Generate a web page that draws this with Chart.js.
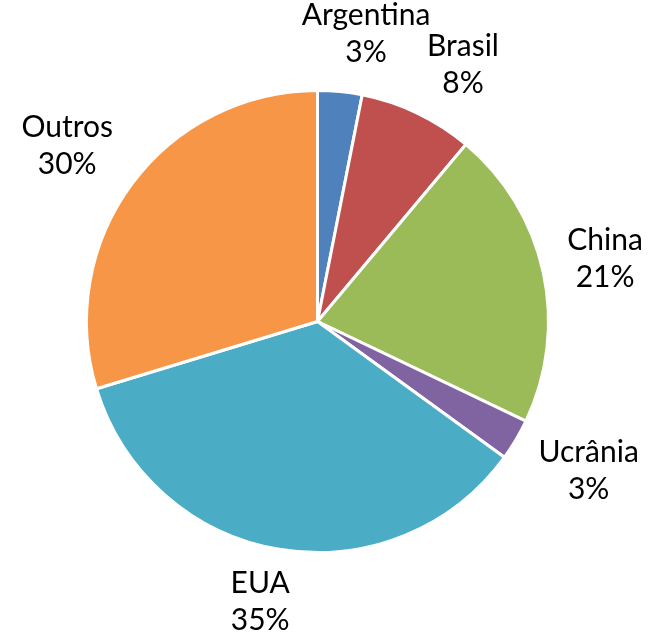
<!DOCTYPE html>
<html>
<head>
<meta charset="utf-8">
<script src="https://cdn.jsdelivr.net/npm/chart.js@4/dist/chart.umd.min.js"></script>
<style>
  html, body { margin: 0; padding: 0; background: #fff; }
  #wrap { width: 652px; height: 637px; position: relative; }
</style>
</head>
<body>
<div id="wrap"><canvas id="pie"></canvas></div>
<script>
{
    // values (share of total, in %)
    const countries = ['Argentina', 'Brasil', 'China', 'Ucrânia', 'EUA', 'Outros'];
    const shares = [3.1, 8.0, 21.0, 2.9, 35.3, 29.7];
    const sliceColors = ['#4F81BD', '#C0504D', '#9BBB59', '#8064A2', '#4BACC6', '#F79646'];
    // small angular nudge of each label off the slice bisector (degrees)
    const labelNudge = [4, 4, 0, -2, 2, -1.5];

    const LABEL_FONT = '30px Lato, "Open Sans", sans-serif';
    const LINE_H = 37;
    const GAP = 20;

    const pct = v => Math.round(v * 100 / shares.reduce((a, b) => a + b, 0)) + '%';

    // two-line labels outside each slice, along the slice bisector
    const outsideLabels = {
        id: 'outsideLabels',
        afterDatasetsDraw(chart) {
            const ctx = chart.ctx;
            const arcs = chart.getDatasetMeta(0).data;
            ctx.save();
            ctx.font = LABEL_FONT;
            ctx.fillStyle = '#000';
            ctx.textAlign = 'center';
            ctx.textBaseline = 'middle';
            arcs.forEach((arc, i) => {
                const { x, y, startAngle, endAngle, outerRadius } = arc.getProps(['x', 'y', 'startAngle', 'endAngle', 'outerRadius'], true);
                const mid = (startAngle + endAngle) / 2 + labelNudge[i] * Math.PI / 180;
                const ux = Math.cos(mid), uy = Math.sin(mid);
                const lines = [countries[i], pct(shares[i])];
                const w = Math.max(...lines.map(t => ctx.measureText(t).width));
                const h = 60;
                const d = outerRadius + GAP + Math.abs(ux) * w / 2 + Math.abs(uy) * h / 2;
                const cx = x + ux * d, cy = y + uy * d;
                ctx.fillText(lines[0], cx, cy - LINE_H / 2);
                ctx.fillText(lines[1], cx, cy + LINE_H / 2);
            });
            ctx.restore();
        }
    };

    new Chart(document.getElementById('pie'), {
        type: 'pie',
        data: {
            labels: countries,
            datasets: [{
                data: shares,
                backgroundColor: sliceColors,
                borderColor: '#ffffff',
                borderWidth: 3
            }]
        },
        options: {
            responsive: true,
            maintainAspectRatio: false,
            animation: false,
            layout: { padding: { left: 85, right: 102, top: 89, bottom: 83 } },
            plugins: {
                legend: { display: false },
                tooltip: { enabled: false }
            }
        },
        plugins: [outsideLabels]
    });
}
</script>
</body>
</html>
